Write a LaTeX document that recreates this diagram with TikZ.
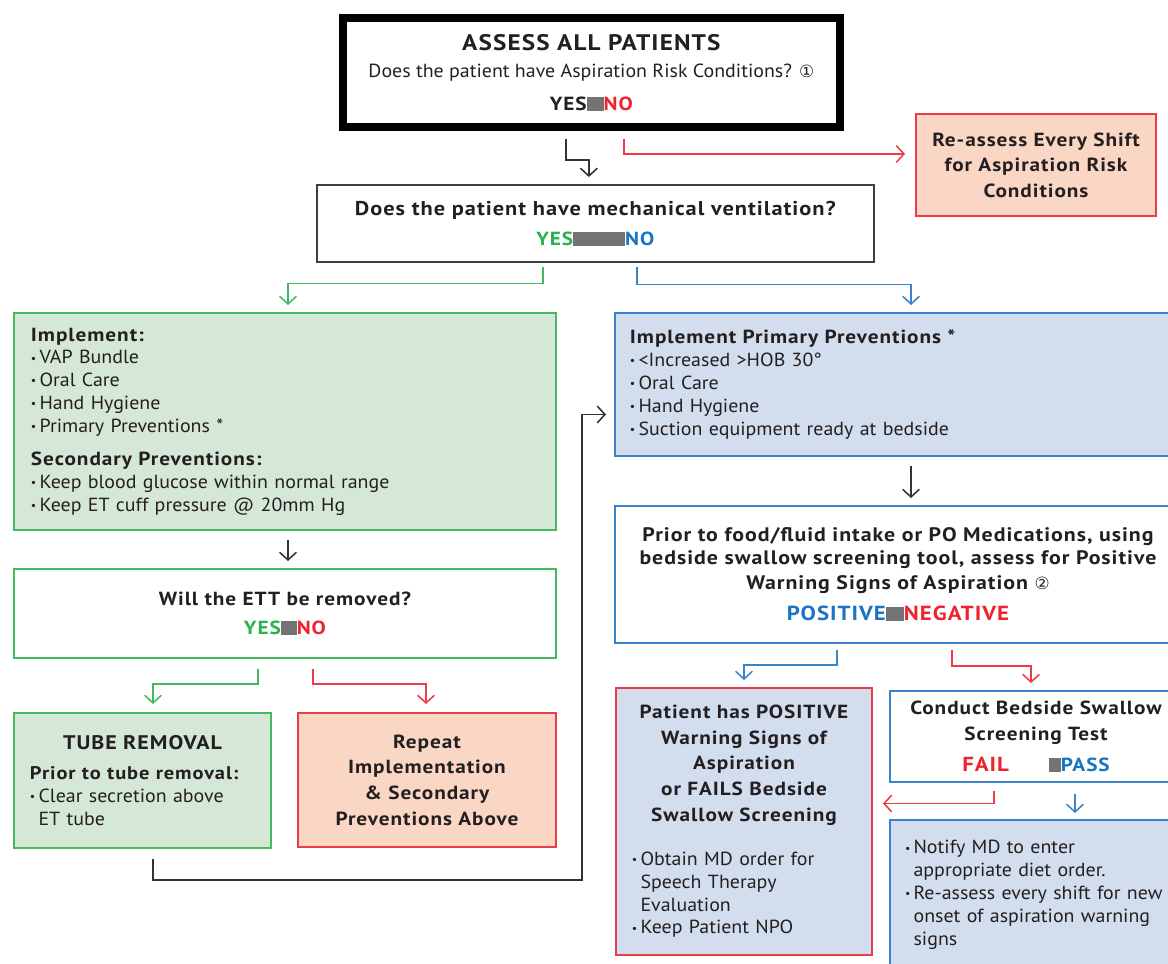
\documentclass[tikz,border=0pt]{standalone}
\usepackage{fontspec}
\setmainfont{PT Sans}[FakeStretch=1.05]
\newfontfamily\headfam{PT Sans}[FakeStretch=1.12, LetterSpace=5]
\newfontfamily\symfont{DejaVu Sans}
\usetikzlibrary{positioning, calc, arrows.meta}

\definecolor{ink}{RGB}{35,31,32}
\definecolor{tgreen}{RGB}{40,178,80}
\definecolor{tblue}{RGB}{26,115,195}
\definecolor{tred}{RGB}{237,35,45}
\definecolor{lgreen}{RGB}{70,185,95}
\definecolor{lblue}{RGB}{60,130,200}
\definecolor{lred}{RGB}{238,60,70}
\definecolor{fgreen}{RGB}{213,232,215}
\definecolor{fblue}{RGB}{210,221,238}
\definecolor{fsalmon}{RGB}{250,214,196}

\newdimen\px \px=0.025cm
\newcommand\bodyfont{\rmfamily\fontsize{13.5}{16.3}\selectfont\mdseries}
\newcommand\headfont{\headfam\fontsize{13.5}{18.2}\selectfont\bfseries}
\newcommand\gapbox[1]{\textcolor{black!55}{\rule[-0.02em]{#1\px}{0.7em}}}
\newcommand\bul{\raisebox{0.1em}{\scalebox{0.6}{\textbullet}}\,}
\newcommand\ctr[1]{\makebox[\hsize]{#1}}

\begin{document}
\begin{tikzpicture}[
    x=0.025cm, y=-0.025cm,
    every node/.style={text=ink, font=\bodyfont},
    box/.style={draw, rectangle, anchor=north west, inner sep=0pt, align=center, line width=1.4pt},
    gbox/.style={box, draw=lgreen, fill=fgreen},
    bbox/.style={box, draw=lblue, fill=fblue},
    rbox/.style={box, draw=lred, fill=fsalmon},
    link/.style={line width=1.1pt, -{Straight Barb[length=5.5pt,width=12pt]}}
]
   \useasboundingbox (0,0) rectangle (1168,963);

   % Questions
   \node[box, line width=5.5pt, minimum width=497\px, minimum height=109\px] (assess) at (339,14)
      {\headfam\fontsize{16}{20}\selectfont\bfseries ASSESS ALL PATIENTS\\[3pt]
       \bodyfont Does the patient have Aspiration Risk Conditions? {\symfont\fontsize{12}{12}\selectfont ①}\\[7pt]
       \headfont YES\gapbox{17}\textcolor{tred}{NO}};
   \node[rbox, minimum width=240\px, minimum height=102\px, font=\headfont] (reassess) at (915,113)
      {Re-assess Every Shift\\for Aspiration Risk\\Conditions};
   \node[box, draw=black!75, line width=1.2pt, minimum width=557\px, minimum height=77\px, font=\headfont] (mechvent) at (316,184)
      {\headfam\fontsize{14.2}{18.2}\selectfont\bfseries Does the patient have mechanical ventilation?\\[3pt]
       \headfont\textcolor{tgreen}{YES}\gapbox{52}\textcolor{tblue}{NO}};

   % Ventilated side
   \node[gbox, align=left, inner xsep=17\px, text width=508\px, minimum width=542\px, minimum height=217\px] (impl) at (13,312)
      {\headfont Implement:\\
       \bodyfont\bul VAP Bundle\\
       \bul Oral Care\\
       \bul Hand Hygiene\\
       \bul Primary Preventions *\\[5pt]
       \headfont Secondary Preventions:\\
       \bodyfont\bul Keep blood glucose within normal range\\
       \bul Keep ET cuff pressure @ 20mm Hg};
   \node[box, draw=lgreen, minimum width=542\px, minimum height=89\px, font=\headfont] (ett) at (13,568)
      {Will the ETT be removed?\\[2pt]
       \textcolor{tgreen}{YES}\gapbox{16}\textcolor{tred}{NO}};
   \node[gbox, align=left, inner xsep=16\px, text width=225\px, minimum width=257\px, minimum height=135\px] (tube) at (13,712)
      {\ctr{\headfam\fontsize{14}{18}\selectfont\bfseries TUBE REMOVAL}\\[5pt]
       \headfam\fontsize{13}{17}\selectfont\bfseries Prior to tube removal:\\
       \bodyfont\bul Clear secretion above\\
       \phantom{\bul}ET tube};
   \node[rbox, minimum width=258\px, minimum height=134\px, font=\headfont] (repeat) at (297,712)
      {Repeat\\Implementation\\\& Secondary\\Preventions Above};

   % Non-ventilated side
   \node[bbox, align=left, inner xsep=15\px, text width=536\px, minimum width=566\px, minimum height=143\px] (prim) at (614,312)
      {\headfont Implement Primary Preventions *\\
       \bodyfont\bul <Increased >HOB 30°\\
       \bul Oral Care\\
       \bul Hand Hygiene\\
       \bul Suction equipment ready at bedside};
   \node[box, draw=lblue, minimum width=566\px, minimum height=137\px] (prior) at (614,505)
      {\headfam\fontsize{13.9}{18.2}\selectfont\bfseries Prior to food/fluid intake or PO Medications, using\\
       \headfam\fontsize{13.9}{18.2}\selectfont\bfseries bedside swallow screening tool, assess for Positive\\[1pt]
       \headfam\fontsize{13.9}{18.2}\selectfont\bfseries Warning Signs of Aspiration {\symfont\mdseries\fontsize{12}{12}\selectfont ②}\\[6pt]
       \headfam\fontsize{14.5}{18}\selectfont\bfseries\textcolor{tblue}{POSITIVE}\gapbox{18}\textcolor{tred}{NEGATIVE}};
   \node[box, draw=lred, fill=fblue, align=left, inner xsep=16\px, text width=224\px, minimum width=256\px, minimum height=267\px] (pos) at (615,687)
      {\headfont\ctr{Patient has POSITIVE}\\
       \ctr{Warning Signs of}\\
       \ctr{Aspiration}\\
       \ctr{or FAILS Bedside}\\
       \ctr{Swallow Screening}\\[15pt]
       \bodyfont\bul Obtain MD order for\\
       \phantom{\bul}Speech Therapy\\
       \phantom{\bul}Evaluation\\
       \bul Keep Patient NPO};
   \node[box, draw=lblue, minimum width=292\px, minimum height=91\px, font=\headfont] (conduct) at (889,690)
      {Conduct Bedside Swallow\\
       Screening Test\\[4pt]
       \headfam\fontsize{14.5}{18}\selectfont\bfseries\textcolor{tred}{FAIL}\hspace{40\px}\gapbox{12}\fontsize{13.5}{18}\selectfont\textcolor{tblue}{PASS}};
   \node[bbox, align=left, inner xsep=15\px, text width=262\px, minimum width=292\px, minimum height=150\px] (notify) at (889,819)
      {\bul Notify MD to enter\\
       \phantom{\bul}appropriate diet order.\\
       \bul Re-assess every shift for new\\
       \phantom{\bul}onset of aspiration warning\\
       \phantom{\bul}signs};

   % Arrows
   \draw[link, draw=black!80] ($(assess.south)+(-25.5,8)$) -- ++(0,21) -| ($(mechvent.north)+(-6.5,-7)$);
   \draw[link, draw=lred] ($(assess.south)+(32.5,8)$) |- ($(reassess.west)+(-10,-11)$);
   \draw[link, draw=lgreen] ($(mechvent.south)+(-52.5,4)$) -- ++(0,17) -| ($(impl.north)+(3,-7)$);
   \draw[link, draw=lblue] ($(mechvent.south)+(41.5,4)$) -- ++(0,18) -| ($(prim.north)+(13,-7)$);
   \draw[link, draw=black!80] ($(impl.south)+(3,9)$) -- ($(ett.north)+(3,-7)$);
   \draw[link, draw=black!80] ($(prim.south)+(13,9)$) -- ($(prior.north)+(13,-7)$);
   \draw[link, draw=lgreen] ($(ett.south)+(-27,10)$) -- ++(0,15) -| ($(tube.north)+(10.5,-8)$);
   \draw[link, draw=lred] ($(ett.south)+(28,10)$) -- ++(0,15) -| ($(repeat.north)+(-1,-8)$);
   \draw[link, draw=black!80] ($(tube.south)+(10.5,10)$) -- ++(0,21) -- ++(429,0) |- ($(prim.west)+(-8,30)$);
   \draw[link, draw=lblue] ($(prior.south)+(-61,6)$) -- ++(0,15) -| ($(pos.north)+(0,-7)$);
   \draw[link, draw=lred] ($(prior.south)+(54,6)$) -- ++(0,16) -| ($(conduct.north)+(-5,-7)$);
   \draw[link, draw=lred] ($(conduct.south)+(-42,8)$) |- ($(pos.east)+(10,-18)$);
   \draw[link, draw=lblue] ($(conduct.south)+(39,11)$) -- ($(notify.north)+(39,-6)$);

\end{tikzpicture}
\end{document}
